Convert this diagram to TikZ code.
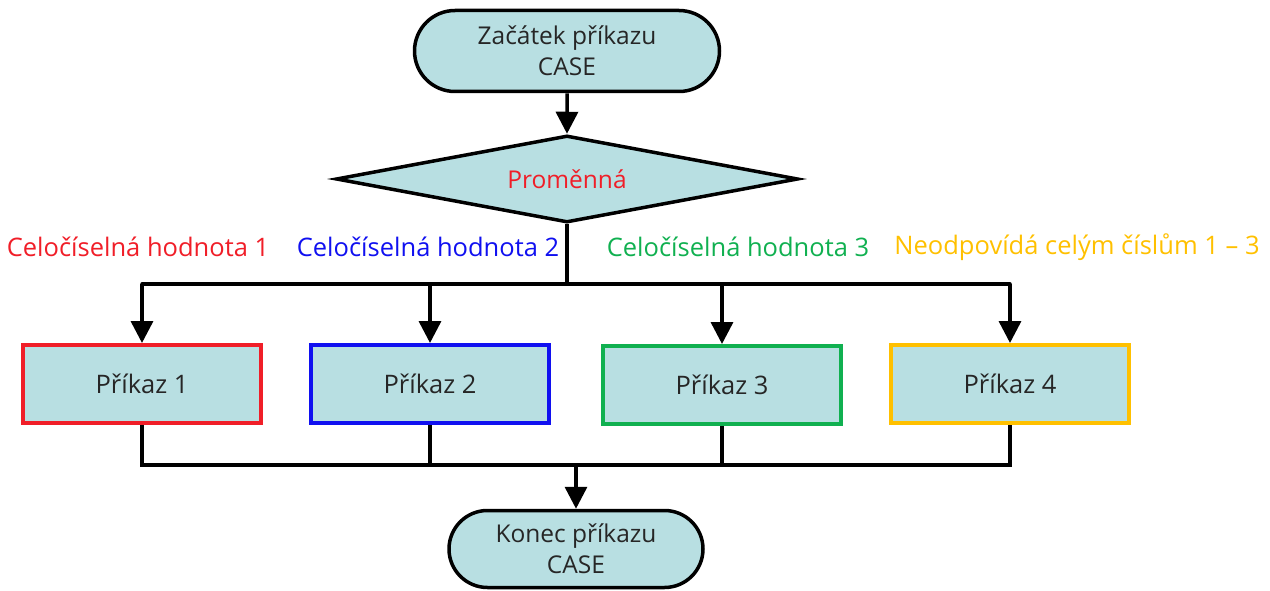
\documentclass[tikz,border=0pt]{standalone}
\usepackage{fontspec}
\setmainfont{Open Sans}
\usetikzlibrary{shapes.geometric,shapes.misc,arrows.meta}
\definecolor{boxfill}{HTML}{B8DFE2}
\definecolor{txt}{HTML}{262626}
\definecolor{cred}{HTML}{F01E28}
\definecolor{cblue}{HTML}{1010F0}
\definecolor{cgreen}{HTML}{10B050}
\definecolor{cyellow}{HTML}{FFC000}
\begin{document}
\begin{tikzpicture}[x=1pt,y=-1pt,
  every node/.style={font=\fontsize{24.5}{31}\selectfont, text=txt},
  term/.style={rounded rectangle, draw=black, line width=3.5pt, fill=boxfill, align=center, inner sep=0pt},
  decision/.style={diamond, draw=black, line width=3.5pt, fill=boxfill, inner sep=0pt, shape aspect=5.4, minimum width=462pt, minimum height=87pt},
  cmd/.style={rectangle, draw=#1, line width=4pt, fill=boxfill, minimum width=238pt, minimum height=78pt, inner sep=0pt},
  lbl/.style={text=#1, inner sep=0pt, font=\fontsize{25.5}{31}\selectfont},
  line/.style={draw=black, line width=3.5pt},
  arr/.style={line, -{Triangle[width=22pt,length=22pt]}}
]
\useasboundingbox (0,0) rectangle (1270,591);

\node[term, minimum width=305pt, minimum height=81pt] (start) at (567,51) {Začátek příkazu\\CASE};
\node[decision] (dec) at (567,179) {\textcolor{cred}{Proměnná}};

\node[cmd=cred, font=\fontsize{25.5}{31}\selectfont] (b1) at (142,384) {Příkaz 1};
\node[cmd=cblue, font=\fontsize{25.5}{31}\selectfont] (b2) at (430,384) {Příkaz 2};
\node[cmd=cgreen, font=\fontsize{25.5}{31}\selectfont] (b3) at (722,385) {Příkaz 3};
\node[cmd=cyellow, font=\fontsize{25.5}{31}\selectfont] (b4) at (1010,384) {Příkaz 4};

\node[term, minimum width=254pt, minimum height=77pt] (end) at (576,549) {Konec příkazu\\CASE};

\node[lbl=cred] (l1) at (138,247) {Celočíselná hodnota 1};
\node[lbl=cblue] (l2) at (428,247) {Celočíselná hodnota 2};
\node[lbl=cgreen] (l3) at (738,247) {Celočíselná hodnota 3};
\node[lbl=cyellow] (l4) at (1077,247) {Neodpovídá celým číslům 1 – 3};

\coordinate (topbus) at (567,284);
\coordinate (botbus) at (576,465);

\draw[arr] (start) -- (dec);
\draw[line] (dec.south) -- (topbus);
\draw[line, line cap=round] (b1 |- topbus) -- (b4 |- topbus);
\draw[arr] (b1 |- topbus) -- (b1.north);
\draw[arr] (b2 |- topbus) -- (b2.north);
\draw[arr] (b3 |- topbus) -- (b3.north);
\draw[arr] (b4 |- topbus) -- (b4.north);

\draw[line] (b1.south) -- (b1 |- botbus) -- (b4 |- botbus) -- (b4.south);
\draw[line] (b2.south) -- (b2 |- botbus);
\draw[line] (b3.south) -- (b3 |- botbus);
\draw[arr] (botbus) -- (end);
\end{tikzpicture}
\end{document}
